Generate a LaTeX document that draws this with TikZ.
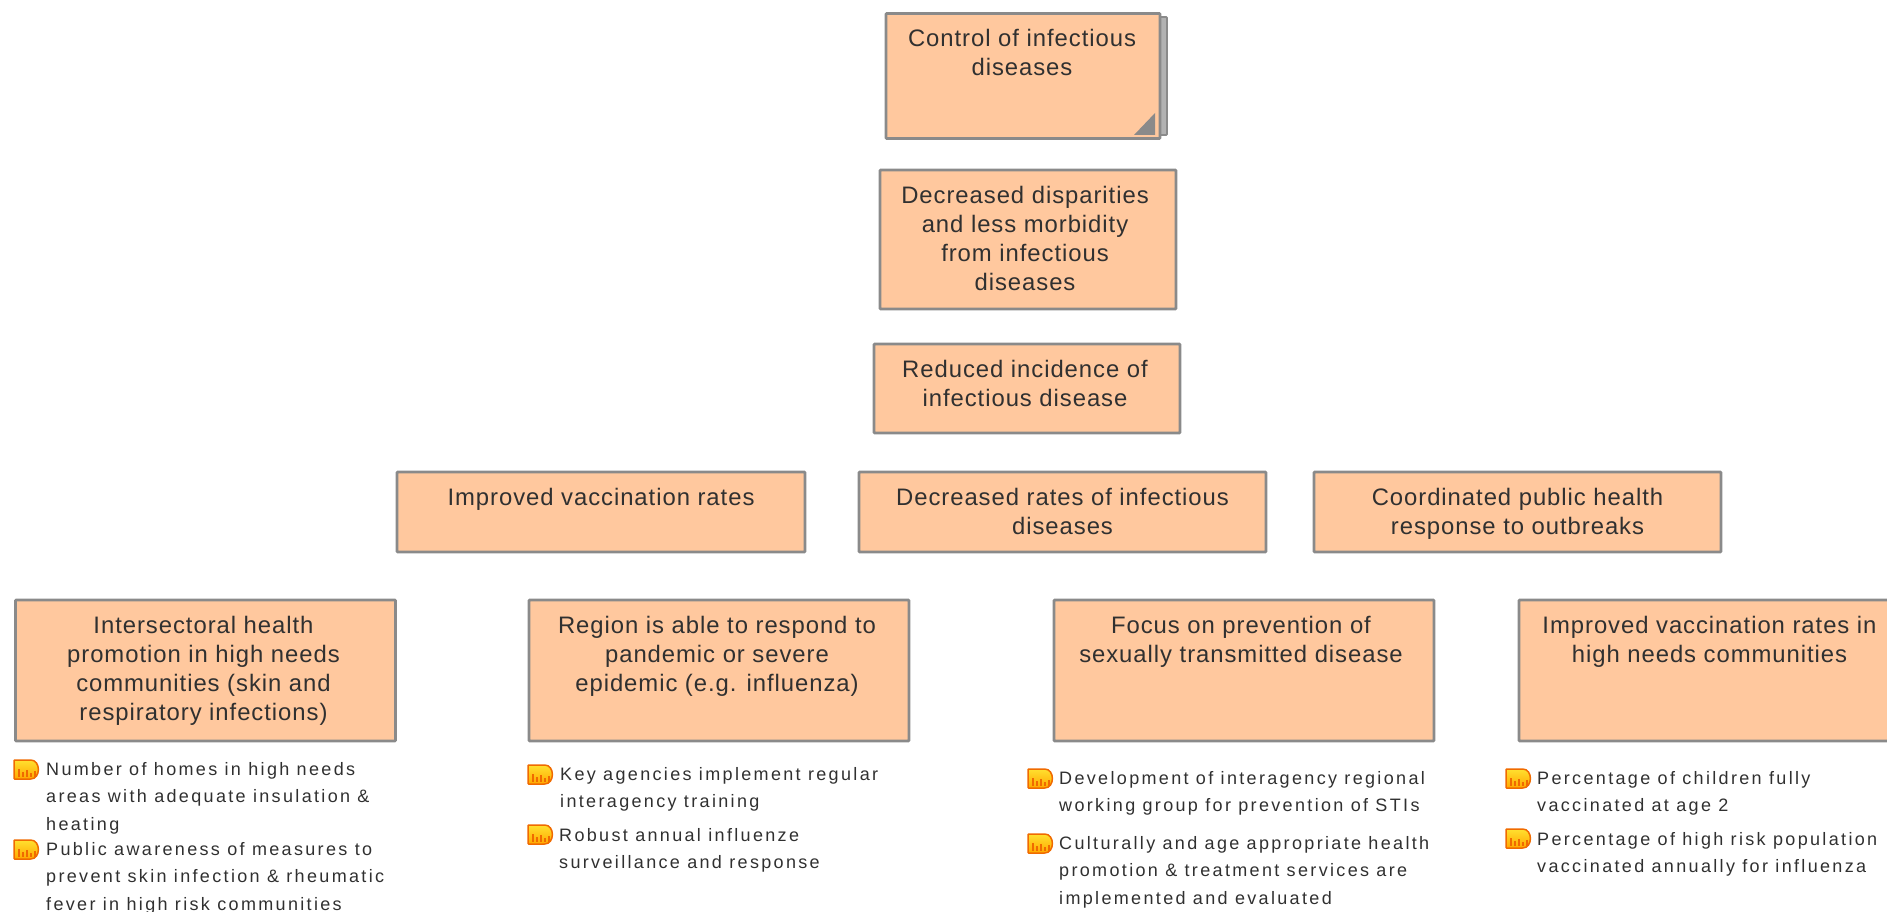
\documentclass[tikz,border=0pt]{standalone}
\usepackage{fontspec}
\setmainfont[LetterSpace=4]{Liberation Sans}
\newfontfamily\indfont[LetterSpace=13]{Liberation Sans}
\definecolor{boxfill}{HTML}{FFC89E}
\definecolor{boxline}{HTML}{8A8A8A}
\definecolor{inktext}{HTML}{303030}
\definecolor{iconline}{HTML}{F06A00}
\definecolor{icontop}{HTML}{FFE030}
\definecolor{iconlow}{HTML}{FFA800}
\begin{document}
\begin{tikzpicture}[
  x=1pt, y=-1pt,
  outcome/.style={draw=boxline, line width=2.8pt, fill=boxfill, inner sep=0pt, rounded corners=0.8pt},
  boxtext/.style={anchor=north, inner sep=0pt, align=center, text=inktext, yshift=-17pt,
    font=\fontsize{23.85}{29.3}\selectfont},
  indtext/.style={anchor=north west, inner sep=0pt, align=left, text=inktext,
    font=\indfont\fontsize{18}{27.5}\selectfont},
  indicon/.pic={
    \draw [draw=iconline, line width=1.5pt, top color=icontop, bottom color=iconlow, rounded corners=0.6pt]
      (0,0) -- (16,0) .. controls (27,0) and (27,19) .. (16,19) -- (0,19) -- cycle;
    \foreach \barx/\bary in {4/8, 8/11, 12/9, 16/12, 20/10}
      \fill [iconline] (\barx,17) rectangle (\barx+1.8,\bary+1);
  }
]
\useasboundingbox (0,0) rectangle (1887,912);

% top box with its stacked sheet
\node [outcome, line width=1.8pt, fill=gray!60, minimum width=272pt, minimum height=118pt] (sheet) at (1031,76) {};
\node [outcome, minimum width=274pt, minimum height=125pt] (control) at (1023,76) {};
\path [fill=boxline] (1155,135) -- (1155,113) -- (1134,135) -- cycle;
\node [boxtext, xshift=-1pt] (controltext) at (control.north) {Control of infectious\\diseases};

\node [outcome, minimum width=296pt, minimum height=139pt] (disparities) at (1028,239.5) {};
\node [boxtext, xshift=-3pt] (disparitiestext) at (disparities.north) {Decreased disparities\\and less morbidity\\from infectious\\diseases};

\node [outcome, minimum width=306pt, minimum height=89pt] (incidence) at (1027,388.5) {};
\node [boxtext, xshift=-2pt] (incidencetext) at (incidence.north) {Reduced incidence of\\infectious disease};

% middle row
\node [outcome, minimum width=408pt, minimum height=80pt] (rates) at (601,512) {};
\node [boxtext] (ratestext) at (rates.north) {Improved vaccination rates};
\node [outcome, minimum width=407pt, minimum height=80pt] (decreased) at (1062.5,512) {};
\node [boxtext] (decreasedtext) at (decreased.north) {Decreased rates of infectious\\diseases};
\node [outcome, minimum width=407pt, minimum height=80pt] (coordinated) at (1517.5,512) {};
\node [boxtext] (coordinatedtext) at (coordinated.north) {Coordinated public health\\response to outbreaks};

% bottom row
\node [outcome, minimum width=380pt, minimum height=141pt] (intersectoral) at (205.5,670.5) {};
\node [boxtext, xshift=-2pt] (intersectoraltext) at (intersectoral.north) {Intersectoral health\\promotion in high needs\\communities (skin and\\respiratory infections)};
\node [outcome, minimum width=380pt, minimum height=141pt] (region) at (719,670.5) {};
\node [boxtext, xshift=-2pt] (regiontext) at (region.north) {Region is able to respond to\\pandemic or severe\\epidemic (e.g. influenza)};
\node [outcome, minimum width=380pt, minimum height=141pt] (prevention) at (1244,670.5) {};
\node [boxtext, xshift=-3pt] (preventiontext) at (prevention.north) {Focus on prevention of\\sexually transmitted disease};
\node [outcome, minimum width=381pt, minimum height=141pt] (communities) at (1709.5,670.5) {};
\node [boxtext] (communitiestext) at (communities.north) {Improved vaccination rates in\\high needs communities};

% indicators
\pic at (14,760) {indicon};
\node [indtext] (homes) at (46,762) {Number of homes in high needs\\areas with adequate insulation \&\\heating};
\pic at (14,840) {indicon};
\node [indtext] (awareness) at (46,842) {Public awareness of measures to\\prevent skin infection \& rheumatic\\fever in high risk communities};

\pic at (528,765) {indicon};
\node [indtext] (agencies) at (560,767) {Key agencies implement regular\\interagency training};
\pic at (528,825) {indicon};
\node [indtext] (surveillance) at (559,828) {Robust annual influenze\\surveillance and response};

\pic at (1028,769) {indicon};
\node [indtext] (working) at (1059,771) {Development of interagency regional\\working group for prevention of STIs};
\pic at (1028,834) {indicon};
\node [indtext] (cultural) at (1059,836) {Culturally and age appropriate health\\promotion \& treatment services are\\implemented and evaluated};

\pic at (1506,769) {indicon};
\node [indtext] (children) at (1537,771) {Percentage of children fully\\vaccinated at age 2};
\pic at (1506,829) {indicon};
\node [indtext] (highrisk) at (1537,832) {Percentage of high risk population\\vaccinated annually for influenza};
\end{tikzpicture}
\end{document}
